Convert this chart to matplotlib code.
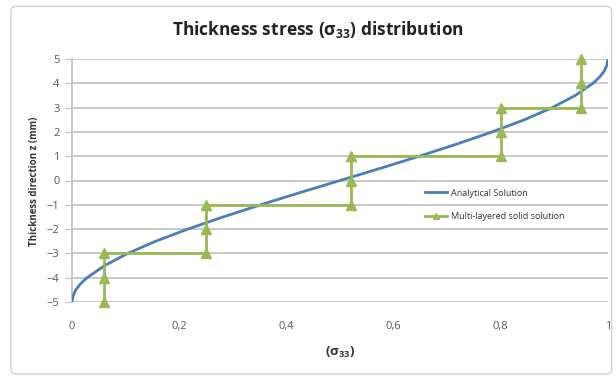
import matplotlib.pyplot as plt
from matplotlib.patches import FancyBboxPatch

# Analytical solution
z_analytical = [-5, -4.75, -4.5, -4.25, -4, -3.5, -3, -2.5, -2, -1.5, -1, -0.5, 0,
                0.5, 1, 1.5, 2, 2.5, 3, 3.5, 4, 4.25, 4.5, 4.75, 5]
s_analytical = [0.0, 0.002, 0.007, 0.016, 0.028, 0.061, 0.104, 0.156, 0.216, 0.282, 0.352,
                0.425, 0.5, 0.575, 0.648, 0.718, 0.784, 0.844, 0.896, 0.939, 0.972,
                0.984, 0.993, 0.998, 1.0]

# Multi-layered solid solution (stepwise)
z_layered = [-5, -4, -3, -3, -2, -1, -1, 0, 1, 1, 2, 3, 3, 4, 5]
s_layered = [0.06, 0.06, 0.06, 0.25, 0.25, 0.25, 0.52, 0.52, 0.52, 0.8, 0.8, 0.8, 0.95, 0.95, 0.95]

x_ticks = [0, 0.2, 0.4, 0.6, 0.8, 1]
x_labels = ['0', '0,2', '0,4', '0,6', '0,8', '1']
y_ticks = list(range(-5, 6))

plt.rcParams['font.family'] = ['Open Sans', 'DejaVu Sans']

fig = plt.figure(figsize=(6.16, 3.77), dpi=100)
frame = FancyBboxPatch((11 / 616, 0.008), 0.975, 0.975, boxstyle='round,pad=0,rounding_size=0.01',
                       transform=fig.transFigure, facecolor='none', edgecolor='#d0d0d0', lw=1)
fig.patches.append(frame)

ax = fig.add_axes([72 / 616, 1 - 302 / 377, (608 - 72) / 616, (302 - 59) / 377])
ax.set_facecolor('none')

for y in y_ticks:
    ax.axhline(y, color='#c4c4c4', lw=1.3, zorder=1)

ax.plot(s_analytical, z_analytical, color='#4a7ebb', lw=2, label='Analytical Solution', zorder=3)
ax.plot(s_layered, z_layered, color='#98b954', lw=2, marker='^', markersize=7,
        label='Multi-layered solid solution', zorder=4, clip_on=False)

ax.set_xlim(0, 1)
ax.set_ylim(-5, 5)
ax.set_xticks(x_ticks)
ax.set_xticklabels(x_labels)
ax.set_yticks(y_ticks)
ax.tick_params(axis='x', length=0, pad=14, labelsize=8, labelcolor='#595959')
ax.tick_params(axis='y', length=5, color='#c4c4c4', pad=4, labelsize=8, labelcolor='#595959')
for side in ['top', 'right', 'bottom']:
    ax.spines[side].set_visible(False)
ax.spines['left'].set_color('#c4c4c4')
ax.spines['left'].set_linewidth(1.3)

fig.text(318 / 616, 1 - 30 / 377, r'Thickness stress ($\mathregular{\sigma_{33}}$) distribution',
         ha='center', va='center', fontsize=12.5, fontweight='bold', color='#222222')
fig.text(340 / 616, 1 - 352 / 377, r'($\mathregular{\sigma_{33}}$)', ha='center', va='center',
         fontsize=9.5, fontweight='bold', color='#333333')
fig.text(35 / 616, 1 - 181 / 377, 'Thickness direction z (mm)', rotation=90, ha='center',
         va='center', fontsize=7, fontweight='bold', color='#333333')

ax.legend(loc='upper left', bbox_to_anchor=((420 - 72) / 536, (302 - 184) / 243), frameon=False,
          fontsize=6.5, handlelength=2.5, labelspacing=1.6, borderpad=0, handletextpad=0.4,
          markerscale=0.7, labelcolor='#333333')

plt.savefig('out.png', dpi=100)
